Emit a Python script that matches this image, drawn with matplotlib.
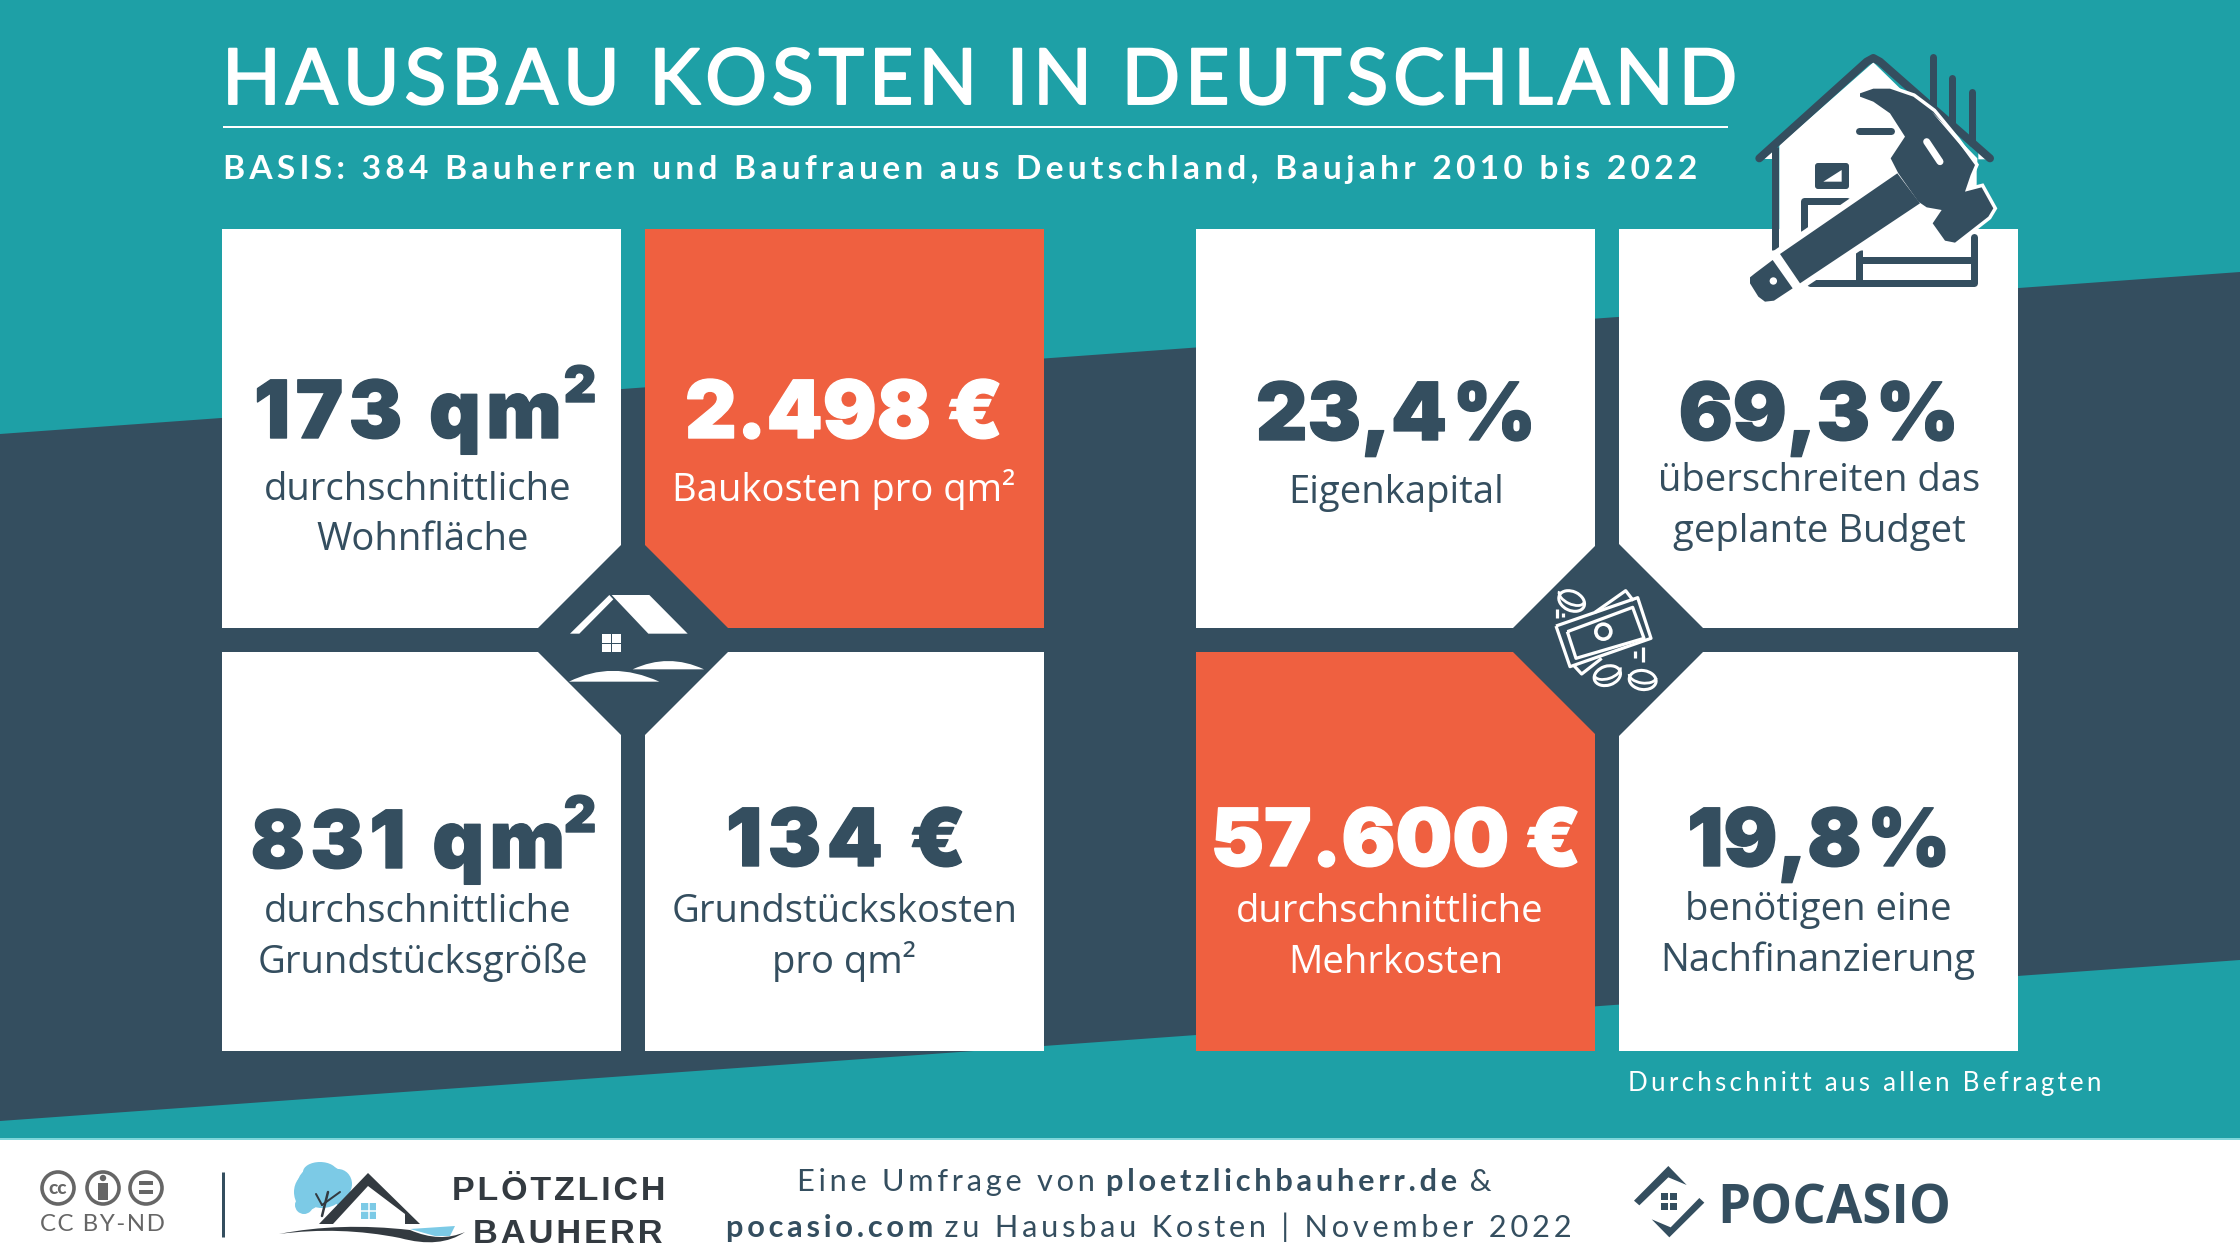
import matplotlib
matplotlib.use("Agg")
import matplotlib.pyplot as plt
import matplotlib.patches as mp
import matplotlib.patheffects as pe
from matplotlib.path import Path

# colours
TEAL = "#1ea0a6"
DARK = "#344e5f"
ORANGE = "#ef6040"
WHITE = "#ffffff"
GREY = "#666666"
SKY = "#7ccae6"
LOGO = "#333a40"

# the eight cards
card_big = ["173 qm", "2.498 €", "831 qm", "134 €", "23,4 %", "69,3 %", "57.600 €", "19,8 %"]
card_sup = ["2", "", "2", "", "", "", "", ""]
card_line1 = ["durchschnittliche", "Baukosten pro qm²", "durchschnittliche", "Grundstückskosten",
              "Eigenkapital", "überschreiten das", "durchschnittliche", "benötigen eine"]
card_line2 = ["Wohnfläche", "", "Grundstücksgröße", "pro qm²", "", "geplante Budget", "Mehrkosten", "Nachfinanzierung"]
card_left = [222, 645, 222, 645, 1196, 1619, 1196, 1619]
card_top = [229, 229, 652, 652, 229, 229, 652, 652]
card_fill = [WHITE, ORANGE, WHITE, WHITE, WHITE, WHITE, ORANGE, WHITE]
big_x = [408, 844, 408, 846, 1396, 1819, 1396, 1819]
big_y = [438, 438, 868, 866, 440, 440, 866, 866]
line1_x = [418, 844, 418, 845, 1396, 1819, 1390, 1818]
line1_y = [500, 501, 922, 922, 503, 491, 922, 920]
line2_x = [423, 0, 423, 844, 0, 1819, 1396, 1818]
line2_y = [550, 0, 973, 973, 0, 542, 973, 971]

title = "HAUSBAU KOSTEN IN DEUTSCHLAND"
subtitle = "BASIS: 384 Bauherren und Baufrauen aus Deutschland, Baujahr 2010 bis 2022"
note = "Durchschnitt aus allen Befragten"

fig = plt.figure(figsize=(22.4, 12.6), dpi=100)
ax = fig.add_axes([0, 0, 1, 1])
ax.set_xlim(0, 2240)
ax.set_ylim(1260, 0)
ax.axis("off")


def track(s, n=1):
    return ("\u200a" * n).join(s)


def put(x, y, s, px, color=DARK, family="Open Sans", weight="normal", ha="center", va="baseline", **kw):
    return ax.text(x, y, s, fontsize=px * 0.72, color=color, family=[family, "DejaVu Sans"],
                   weight=weight, ha=ha, va=va, **kw)


def poly(points, color=DARK, z=3):
    ax.add_patch(mp.Polygon(points, closed=True, fc=color, ec="none", zorder=z))


def line(xs, ys, color=DARK, w=7, z=3, cap="round"):
    ax.plot(xs, ys, color=color, lw=w * 0.72, solid_capstyle=cap, solid_joinstyle="round", zorder=z)


# background, slanted band, footer
ax.add_patch(mp.Rectangle((0, 0), 2240, 1260, fc=TEAL, ec="none", zorder=0))
poly([(0, 434), (2240, 272), (2240, 960), (0, 1121)], DARK, 1)
ax.add_patch(mp.Rectangle((0, 1139), 2240, 121, fc=WHITE, ec="none", zorder=1))
line([0, 2240], [1139, 1139], "#7fd6da", 2, 2, "butt")

# cards
for i in range(8):
    ax.add_patch(mp.Rectangle((card_left[i], card_top[i]), 399, 399, fc=card_fill[i], ec="none", zorder=2))
    col = WHITE if card_fill[i] == ORANGE else DARK
    heavy = [pe.withStroke(linewidth=1, foreground=col)]
    big = card_big[i]
    if "qm" in big or big == "134 €":
        big = track(big)
    big = big.replace(" %", "\u200a%")
    put(big_x[i], big_y[i], big, 80, col, "Inter", "black", zorder=4, path_effects=heavy)
    if card_sup[i]:
        put(580, big_y[i] - 36, card_sup[i], 50, col, "Inter", "black", zorder=4, path_effects=heavy)
    put(line1_x[i], line1_y[i], card_line1[i], 38.3, col, zorder=4)
    if card_line2[i]:
        put(line2_x[i], line2_y[i], card_line2[i], 38.3, col, zorder=4)

# centre diamonds
for cx in [633, 1608]:
    poly([(cx, 533), (cx + 107, 640), (cx, 747), (cx - 107, 640)], DARK, 3)

# title block
put(222, 104, track(title), 77.2, WHITE, "Lato", ha="left",
    path_effects=[pe.withStroke(linewidth=1.4, foreground=WHITE)])
line([223, 1728], [127, 127], WHITE, 2, cap="butt")
put(223, 179, track(subtitle, 2), 33.5, WHITE, "Lato", "bold", ha="left")
put(1628, 1091, track(note, 2), 25.9, WHITE, "Lato", ha="left")


# hammer icon, zoom coordinates of the crop at (1700, 30)
def hz(pts):
    return [(1700 + x / 3, 30 + y / 3) for x, y in pts]


def hline(pts, w=7, color=DARK, z=5, cap="round"):
    p = hz(pts)
    line([a for a, b in p], [b for a, b in p], color, w, z, cap)


poly(hz([(238, 345), (520, 97), (830, 400), (830, 760), (238, 760)]), WHITE, 5)
poly(hz([(190, 388), (215, 388), (215, 365)]), WHITE, 5)
poly(hz([(835, 388), (860, 388), (835, 365)]), WHITE, 5)
hline([(699, 80), (699, 240)])
hline([(757, 145), (757, 280)])
hline([(816, 185), (816, 340)])
hline([(178, 385), (500, 95), (520, 84), (540, 95), (870, 385)], 8)
hline([(226, 350), (226, 660)], 7, cap="butt")
hline([(822, 620), (822, 760), (330, 760)], 7)
hline([(478, 660), (478, 760)], 7, cap="butt")
hline([(478, 690), (822, 690)], 7, cap="butt")
hline([(478, 303), (572, 303)], 7)
hline([(313, 600), (313, 513), (440, 513)], 7)
ax.add_patch(mp.FancyBboxPatch((1818, 166), 28, 20, boxstyle="round,pad=3", fc=DARK, ec="none", zorder=5))
poly(hz([(370, 455), (425, 420), (425, 455)]), WHITE, 5)
# white halo under the handle and head, then the hammer itself
handle = [(240, 672), (592, 430), (660, 520), (300, 760)]
grip = [(165, 730), (218, 690), (278, 775), (222, 812), (195, 815), (175, 800), (150, 760), (150, 742)]
head = [(480, 190), (520, 176), (570, 176), (640, 200), (700, 245), (770, 330), (825, 405), (812, 435),
        (795, 485), (845, 472), (880, 535), (865, 560), (765, 638), (735, 632), (698, 580), (725, 540),
        (680, 532), (655, 515), (595, 430), (572, 385), (615, 320), (570, 250), (520, 215), (480, 200)]
ax.add_patch(mp.Polygon(hz(handle), closed=True, fc=WHITE, ec=WHITE, lw=9, zorder=6))
ax.add_patch(mp.Polygon(hz(head), closed=True, fc=WHITE, ec=WHITE, lw=5, zorder=6))
poly(hz(handle), DARK, 7)
poly(hz(grip), DARK, 7)
poly(hz(head), DARK, 7)
hline([(680, 335), (720, 395)], 7, WHITE, 8)
poly(hz([(695, 245), (832, 385), (832, 405)]), WHITE, 8)
ax.add_patch(mp.Circle((1700 + 220 / 3, 30 + 753 / 3), 3.7, fc=WHITE, ec="none", zorder=8))


# small house in the left diamond, crop at (520, 530)
def lz(pts):
    return [(520 + x / 3, 530 + y / 3) for x, y in pts]


def hill(a, b, c):
    verts = lz([a, b, c, a])
    ax.add_patch(mp.PathPatch(Path(verts, [Path.MOVETO, Path.CURVE3, Path.CURVE3, Path.CLOSEPOLY]),
                              fc=WHITE, ec="none", zorder=5))


poly(lz([(150, 311), (268, 195), (280, 208), (178, 311)]), WHITE, 5)
poly(lz([(275, 195), (388, 195), (503, 311), (385, 311)]), WHITE, 5)
for wx, wy in [(247, 312), (276, 312), (247, 341), (276, 341)]:
    ax.add_patch(mp.Rectangle((520 + wx / 3, 530 + wy / 3), 8.6, 8.6, fc=WHITE, ec="none", zorder=5))
hill((147, 455), (275, 390), (418, 455))
hill((338, 418), (445, 368), (552, 418))


# banknote and coins in the right diamond, crop at (1495, 530)
def rz(pts):
    return [(1495 + x / 3, 530 + y / 3) for x, y in pts]


def rline(pts, w=3.2):
    p = rz(pts)
    line([a for a, b in p], [b for a, b in p], WHITE, w, 5, "butt")


rline([(183, 288), (428, 203), (468, 325), (225, 410), (183, 288)])
rline([(217, 305), (413, 232), (447, 325), (243, 385), (217, 305)])
rline([(300, 247), (392, 182), (415, 212)])
rline([(235, 405), (260, 432), (320, 385)])
rline([(185, 237), (185, 263)])
rline([(205, 250), (205, 262)])
rline([(420, 362), (420, 385)])
rline([(443, 350), (443, 397)])
cent = rz([(325, 305)])[0]
ax.add_patch(mp.Circle(cent, 7.5, fc="none", ec=WHITE, lw=2.6, zorder=5))
for zx, zy, ang in [(230, 213, 25), (337, 437, -18), (443, 450, 8)]:
    c = rz([(zx, zy)])[0]
    ax.add_patch(mp.Ellipse(c, 27, 19, angle=ang, fc="none", ec=WHITE, lw=2.2, zorder=5))
    c2 = (c[0], c[1] - 4)
    ax.add_patch(mp.Arc(c2, 27, 14, angle=ang, theta1=0, theta2=180, ec=WHITE, lw=2, zorder=5))

# footer: cc badges
for cx in [58, 103, 146]:
    ax.add_patch(mp.Circle((cx, 1188), 16, fc=WHITE, ec=GREY, lw=2.6, zorder=3))
put(58, 1194, "cc", 19, GREY, "Lato", "black", zorder=4)
ax.add_patch(mp.Circle((103, 1178), 3.2, fc=GREY, ec="none", zorder=4))
ax.add_patch(mp.Rectangle((98, 1183), 10, 17, fc=GREY, ec="none", zorder=4))
ax.add_patch(mp.Rectangle((139, 1181), 14, 4, fc=GREY, ec="none", zorder=4))
ax.add_patch(mp.Rectangle((139, 1190), 14, 4, fc=GREY, ec="none", zorder=4))
put(102, 1231, track("CC BY-ND"), 24, GREY, "Lato")
line([223, 223], [1172, 1237], DARK, 3, cap="butt")

# footer: Plötzlich Bauherr logo
for bx, by, bw, bh in [(322, 1186, 50, 44), (308, 1192, 28, 36), (338, 1184, 28, 30), (320, 1172, 34, 20),
                       (304, 1205, 18, 18), (343, 1197, 18, 20)]:
    ax.add_patch(mp.Ellipse((bx, by), bw, bh, fc=SKY, ec="none", zorder=3))
line([322, 328], [1216, 1192], LOGO, 2.5, 4)
line([322, 340], [1205, 1192], LOGO, 2, 4)
line([322, 316], [1205, 1194], LOGO, 2, 4)
poly([(319, 1224), (368, 1173), (420, 1224), (405, 1224), (405, 1214), (368, 1186), (333, 1224)], LOGO, 5)
poly([(333, 1224), (368, 1186), (405, 1214), (405, 1224)], WHITE, 4)
ax.add_patch(mp.Rectangle((361, 1203), 15, 16, fc=SKY, ec="none", zorder=5))
line([368.5, 368.5], [1203, 1219], WHITE, 1.5, 6, "butt")
line([361, 376], [1211, 1211], WHITE, 1.5, 6, "butt")
swoosh = Path([(279, 1234), (340, 1222), (410, 1230), (440, 1243), (465, 1232),
               (440, 1249), (400, 1238), (340, 1226), (279, 1234)],
              [Path.MOVETO, Path.CURVE3, Path.CURVE3, Path.CURVE3, Path.CURVE3,
               Path.CURVE3, Path.CURVE3, Path.CURVE3, Path.CURVE3])
ax.add_patch(mp.PathPatch(swoosh, fc=LOGO, ec="none", zorder=5))
poly([(410, 1229), (455, 1226), (450, 1236), (435, 1236)], SKY, 4)
put(559, 1200, track("PLÖTZLICH"), 34, LOGO, "Liberation Sans", "bold")
put(568, 1243, track("BAUHERR"), 34.5, LOGO, "Liberation Sans", "bold")

# footer: survey credit with bold site names
FOOT = dict(xytext=(0, 0), textcoords="offset points", fontsize=30.8 * 0.72, color=DARK,
            family=["Lato", "DejaVu Sans"], va="bottom")
t1 = put(797, 1191, track("Eine Umfrage von ", 2), 30.8, DARK, "Lato", ha="left")
t2 = ax.annotate(track("ploetzlichbauherr.de", 2), xy=(1, 0), xycoords=t1, weight="bold", **FOOT)
ax.annotate(track(" &", 2), xy=(1, 0), xycoords=t2, **FOOT)
t3 = put(726, 1237, track("pocasio.com", 2), 30.8, DARK, "Lato", "bold", ha="left")
ax.annotate(track(" zu Hausbau Kosten | November 2022", 2), xy=(1, 0), xycoords=t3, **FOOT)


# footer: Pocasio logo, crop at (1600, 1130)
def pz(pts):
    return [(1600 + x / 3, 1130 + y / 3) for x, y in pts]


poly(pz([(102, 212), (205, 108), (260, 165), (205, 142), (118, 226)]), DARK, 3)
poly(pz([(155, 268), (212, 292), (298, 204), (313, 218), (208, 322)]), DARK, 3)
for wx, wy in [(183, 190), (211, 190), (183, 218), (211, 218)]:
    ax.add_patch(mp.Rectangle((1600 + wx / 3, 1130 + wy / 3), 7, 7, fc=DARK, ec="none", zorder=3))
put(1834, 1223, "POCASIO", 52.8, DARK, "Open Sans", "bold")

fig.savefig("out.png", dpi=100)
